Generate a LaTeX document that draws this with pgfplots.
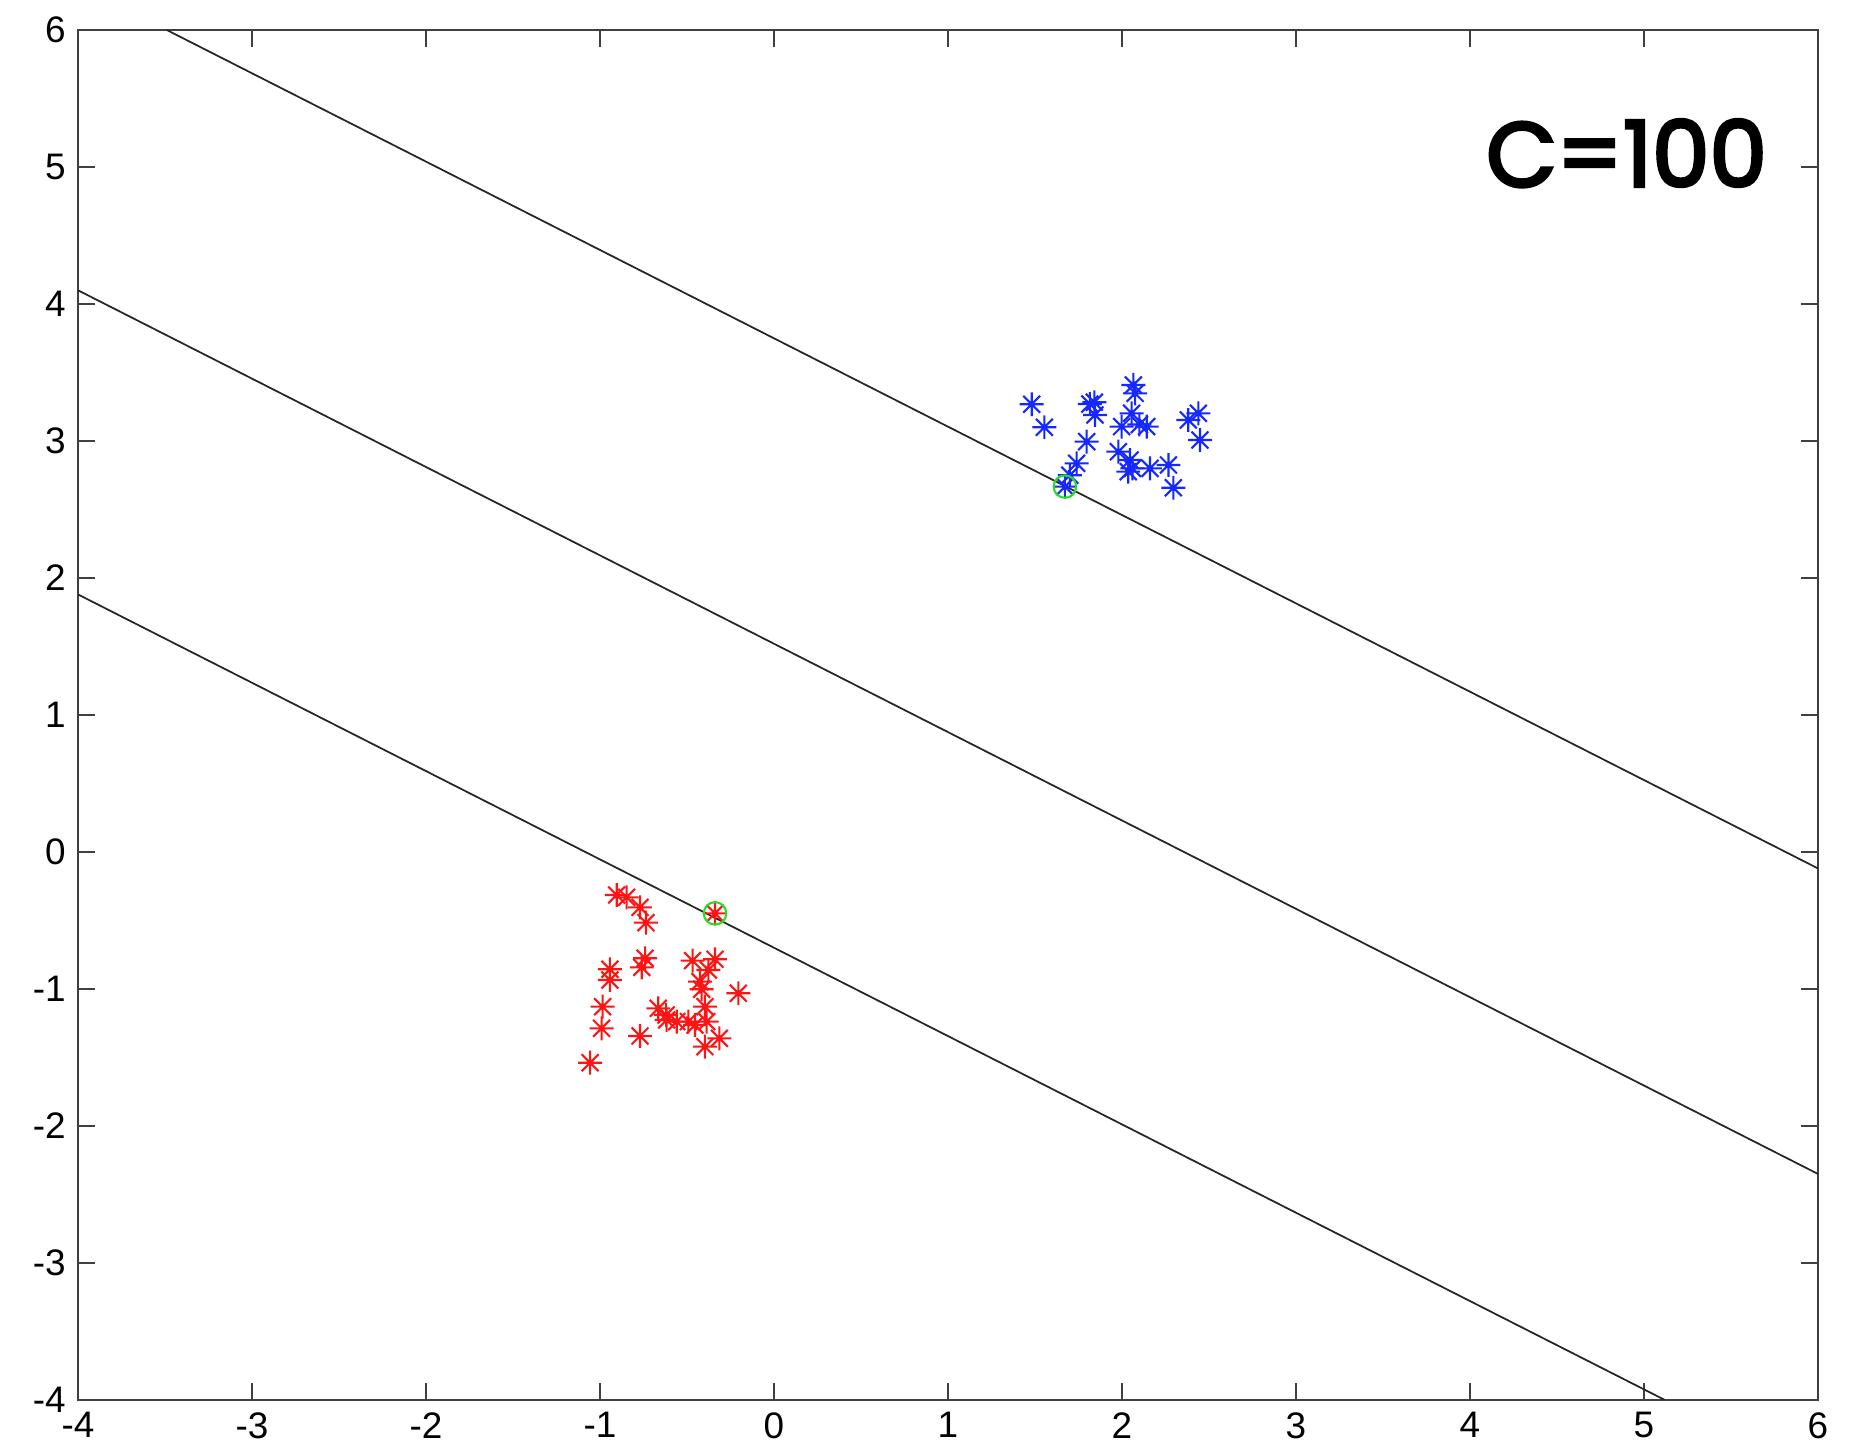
\documentclass[border=0pt]{standalone}
\usepackage{pgfplots}
\pgfplotsset{compat=1.18}
\usepackage{fontspec}
\setmainfont{Liberation Sans}
\newfontfamily\labelfont[FakeBold=3.5]{Poppins}
\pgfdeclareplotmark{star8}{%
 \pgfpathmoveto{\pgfqpoint{-\pgfplotmarksize}{0pt}}\pgfpathlineto{\pgfqpoint{\pgfplotmarksize}{0pt}}%
 \pgfpathmoveto{\pgfqpoint{0pt}{-\pgfplotmarksize}}\pgfpathlineto{\pgfqpoint{0pt}{\pgfplotmarksize}}%
 \pgfpathmoveto{\pgfqpoint{-0.7071\pgfplotmarksize}{-0.7071\pgfplotmarksize}}\pgfpathlineto{\pgfqpoint{0.7071\pgfplotmarksize}{0.7071\pgfplotmarksize}}%
 \pgfpathmoveto{\pgfqpoint{-0.7071\pgfplotmarksize}{0.7071\pgfplotmarksize}}\pgfpathlineto{\pgfqpoint{0.7071\pgfplotmarksize}{-0.7071\pgfplotmarksize}}%
 \pgfusepathqstroke}
\definecolor{mblue}{RGB}{20,40,255}
\definecolor{mred}{RGB}{255,20,20}
\definecolor{mgreen}{RGB}{40,220,40}
\begin{document}
\begin{tikzpicture}
\begin{axis}[
  scale only axis,
  width=17.4cm, height=13.7cm,
  xmin=-4, xmax=6, ymin=-4, ymax=6,
  xtick={-4,...,6}, ytick={-4,...,6},
  tick align=inside,
  major tick length=0.17cm,
  axis line style={draw=black!75, line width=0.6pt},
  every tick/.style={black!75, line width=0.6pt},
  tick label style={font=\fontsize{10.5}{12}\selectfont},
  /pgf/number format/assume math mode=true,
  clip=true,
]
\addplot[black!85, line width=0.5pt] coordinates {(-3.49,6) (6,-0.12)};
\addplot[black!85, line width=0.5pt] coordinates {(-4,4.10) (6,-2.35)};
\addplot[black!85, line width=0.5pt] coordinates {(-4,1.88) (5.12,-4)};
\addplot[only marks, mark=star8, mark size=3.4pt, mblue, mark options={line width=0.6pt}] coordinates {
(1.481,3.268) (1.554,3.100) (1.841,3.283) (1.815,3.27) (1.845,3.19) (1.797,2.995) (1.739,2.837) (1.672,2.667)
(1.70,2.75)
(2.065,3.409) (2.075,3.348) (2.055,3.202) (1.998,3.105) (2.142,3.105) (2.10,3.12) (1.979,2.922) (2.046,2.861)
(2.036,2.776) (2.161,2.800) (2.267,2.825) (2.295,2.659) (2.381,3.153) (2.439,3.202) (2.448,3.007) (2.06,2.80)
};
\addplot[only marks, mark=star8, mark size=3.4pt, mred, mark options={line width=0.6pt}] coordinates {
(-0.904,-0.314) (-0.847,-0.331) (-0.770,-0.404) (-0.736,-0.516) (-0.339,-0.448) (-0.741,-0.776) (-0.760,-0.842)
(-0.943,-0.856) (-0.943,-0.934) (-0.468,-0.793) (-0.339,-0.783) (-0.377,-0.861) (-0.425,-0.946) (-0.416,-1.002)
(-0.205,-1.031) (-0.985,-1.129) (-0.991,-1.287) (-0.665,-1.141) (-0.617,-1.226) (-0.559,-1.238) (-0.492,-1.238)
(-0.454,-1.263) (-0.397,-1.129) (-0.387,-1.238) (-0.314,-1.360) (-0.397,-1.421) (-0.770,-1.343) (-1.057,-1.538)
(-0.62,-1.19)
};
\addplot[only marks, mark=o, mark size=3.2pt, mgreen, mark options={line width=0.6pt}] coordinates {
(1.672,2.667) (-0.339,-0.448)
};
\node[font=\labelfont\fontsize{26}{30}\selectfont, anchor=center] at (axis cs:4.90,5.10) {C=100};
\end{axis}
\path (current axis.south west) ++(-0.78cm,-0.53cm);
\path (current axis.north east) ++(0.36cm,0.30cm);
\end{tikzpicture}
\end{document}
